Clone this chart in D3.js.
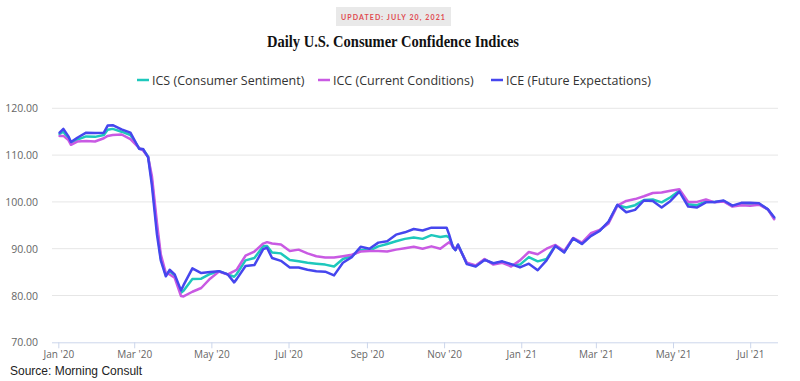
<!DOCTYPE html>
<html><head><meta charset="utf-8">
<script src="https://cdn.jsdelivr.net/npm/d3@7"></script>
<style>body{margin:0;background:#fff}svg{display:block}</style>
</head><body><svg id="c" width="800" height="381"></svg>
<script>
const dates = ["2020-01-02","2020-01-05","2020-01-09","2020-01-11","2020-01-16","2020-01-23","2020-01-30","2020-02-06","2020-02-09","2020-02-13","2020-02-20","2020-02-27","2020-03-05","2020-03-08","2020-03-12","2020-03-15","2020-03-19","2020-03-22","2020-03-26","2020-03-29","2020-04-02","2020-04-07","2020-04-09","2020-04-16","2020-04-23","2020-04-30","2020-05-07","2020-05-14","2020-05-19","2020-05-21","2020-05-28","2020-06-04","2020-06-11","2020-06-14","2020-06-18","2020-06-25","2020-07-02","2020-07-09","2020-07-16","2020-07-23","2020-07-30","2020-08-06","2020-08-13","2020-08-20","2020-08-27","2020-09-03","2020-09-10","2020-09-17","2020-09-24","2020-10-01","2020-10-08","2020-10-15","2020-10-22","2020-10-29","2020-11-03","2020-11-05","2020-11-08","2020-11-10","2020-11-12","2020-11-19","2020-11-26","2020-12-03","2020-12-10","2020-12-17","2020-12-24","2020-12-31","2021-01-07","2021-01-14","2021-01-21","2021-01-28","2021-02-04","2021-02-11","2021-02-18","2021-02-25","2021-03-04","2021-03-11","2021-03-18","2021-03-25","2021-04-01","2021-04-08","2021-04-15","2021-04-22","2021-04-29","2021-05-06","2021-05-13","2021-05-20","2021-05-27","2021-06-03","2021-06-10","2021-06-17","2021-06-24","2021-07-01","2021-07-08","2021-07-15","2021-07-20"];

const ics = [114.5,115.0,113.5,112.5,113.3,114.0,113.9,114.3,115.4,115.6,115.0,114.3,111.4,111.2,109.7,104.5,94.2,88.0,84.4,85.2,84.2,80.6,81.0,83.5,83.6,84.6,85.2,84.5,84.0,84.6,87.5,88.0,90.5,90.6,89.2,89.0,87.6,87.3,87.0,86.8,86.6,86.2,87.8,88.5,89.7,89.6,90.5,91.0,91.6,92.1,92.4,92.1,92.9,92.5,92.7,92.4,90.4,89.7,90.8,86.9,86.3,87.7,86.8,87.2,86.5,86.6,88.2,87.3,87.8,90.7,89.3,92.2,91.1,92.9,93.9,95.6,99.3,98.8,99.3,100.4,100.5,99.9,101.0,102.4,99.5,99.3,100.1,100.0,100.2,99.1,99.6,99.5,99.6,98.4,96.5];

const icc = [114.1,114.1,113.2,112.2,112.9,113.0,112.9,113.6,114.1,114.3,114.4,113.4,111.5,111.0,109.6,105.5,95.5,88.8,84.8,84.5,83.8,79.9,79.8,80.8,81.6,83.6,85.1,84.5,85.2,85.5,88.5,89.4,91.1,91.4,91.1,90.9,89.5,89.8,89.0,88.4,88.1,88.1,88.4,88.7,89.4,89.5,89.5,89.4,89.8,90.1,90.4,90.0,90.5,90.0,91.0,91.4,90.5,89.8,90.6,87.0,86.4,87.8,86.6,87.0,86.2,87.5,89.3,88.8,90.0,90.8,89.5,92.3,91.3,93.3,94.0,95.4,99.2,100.2,100.6,101.2,101.9,102.0,102.4,102.7,100.0,100.0,100.5,99.9,100.1,99.0,99.3,99.2,99.4,98.4,96.3];

const ice = [114.8,115.6,114.0,112.8,113.7,114.8,114.7,114.8,116.3,116.4,115.5,114.8,111.3,111.3,109.5,103.5,93.0,87.5,84.1,85.5,84.5,81.1,82.2,85.8,84.8,85.0,85.2,84.5,82.8,83.5,86.3,86.5,89.9,90.2,88.0,87.4,86.0,86.0,85.5,85.2,85.1,84.3,87.0,88.2,90.4,90.0,91.3,91.6,93.0,93.5,94.2,93.9,94.5,94.5,94.5,93.0,90.3,89.7,90.9,86.7,86.2,87.6,86.9,87.3,86.7,86.0,86.8,85.4,87.5,90.6,89.2,92.2,91.0,92.7,93.8,95.8,99.4,97.8,98.3,100.3,100.2,98.8,100.2,102.2,99.0,98.8,99.9,100.0,100.3,99.2,99.8,99.8,99.7,98.4,96.7];

const seriesNames = ["ICS (Consumer Sentiment)","ICC (Current Conditions)","ICE (Future Expectations)"];
const seriesColors = ["#1ec8bc","#c95ae3","#4646ee"];
const yTicks = [70,80,90,100,110,120];
const xTickDates = ["2020-01-01","2020-03-01","2020-05-01","2020-07-01","2020-09-01","2020-11-01","2021-01-01","2021-03-01","2021-05-01","2021-07-01"];
const titleText = "Daily U.S. Consumer Confidence Indices";
const updatedText = "UPDATED: JULY 20, 2021";
const sourceText = "Source: Morning Consult";

const parse = d3.timeParse("%Y-%m-%d");
const svg = d3.select("#c");
const mLeft = 52, mRight = 778, mTop = 108.3, mBottom = 342.3;

const x = d3.scaleTime().domain([parse("2019-12-27"), parse("2021-07-23")]).range([mLeft, mRight]);
const y = d3.scaleLinear().domain([70,120]).range([mBottom, mTop]);

// badge
svg.append("rect").attr("x",336).attr("y",7).attr("width",115).attr("height",19).attr("fill","#e9e9e9");
svg.append("text").attr("x",393.5).attr("y",19.5).attr("text-anchor","middle")
  .attr("font-family","Lato, 'Open Sans', sans-serif").attr("font-size",7).attr("font-weight",700)
  .attr("letter-spacing","1.1px").attr("fill","#e0494f").text(updatedText);

// title
svg.append("text").attr("x",393).attr("y",47).attr("text-anchor","middle")
  .attr("font-family","'Liberation Serif', 'DejaVu Serif', serif").attr("font-size",17).attr("font-weight",700)
  .attr("fill","#111").attr("textLength",252).attr("lengthAdjust","spacingAndGlyphs").text(titleText);

// legend
const legendX = [137, 318, 491];
seriesNames.forEach((n,i)=>{
  svg.append("line").attr("x1",legendX[i]).attr("x2",legendX[i]+12).attr("y1",80).attr("y2",80)
    .attr("stroke",seriesColors[i]).attr("stroke-width",2.5);
  svg.append("text").attr("x",legendX[i]+15).attr("y",84.5)
    .attr("font-family","'Open Sans', sans-serif").attr("font-size",12.5).attr("fill","#333").text(n);
});

// grid
const gy = svg.append("g");
yTicks.forEach(t=>{
  if (t>70) gy.append("line").attr("x1",mLeft).attr("x2",mRight).attr("y1",y(t)).attr("y2",y(t))
    .attr("stroke","#e6e6e6").attr("stroke-width",1);
  gy.append("text").attr("x",38).attr("y",y(t)+4).attr("text-anchor","end")
    .attr("font-family","'Open Sans', sans-serif").attr("font-size",10.5).attr("fill","#666").text(d3.format(".2f")(t));
});

// x axis
const xAxis = d3.axisBottom(x).tickValues(xTickDates.map(parse)).tickFormat(d3.timeFormat("%b '%y")).tickSize(6).tickPadding(3);
const gx = svg.append("g").attr("transform",`translate(0,${mBottom})`).call(xAxis);
gx.select(".domain").attr("stroke","#ccd6eb").attr("d",`M${mLeft},0.5H${mRight}`);
gx.selectAll(".tick line").attr("stroke","#ccd6eb");
gx.selectAll(".tick text").attr("font-family","'Open Sans', sans-serif").attr("font-size",10).attr("fill","#666");

// lines
const allSeries = [ics, icc, ice];
const line = d3.line().x((d,i)=>x(parse(dates[i]))).y(d=>y(d)).curve(d3.curveLinear);
allSeries.forEach((s,i)=>{
  svg.append("path").datum(s).attr("d",line).attr("fill","none")
    .attr("stroke",seriesColors[i]).attr("stroke-width",2.5).attr("stroke-linejoin","round").attr("stroke-linecap","round");
});

// source
svg.append("text").attr("x",10).attr("y",375).attr("font-family","'Liberation Sans', Arial, sans-serif")
  .attr("font-size",12).attr("fill","#222").text(sourceText);
</script></body></html>
